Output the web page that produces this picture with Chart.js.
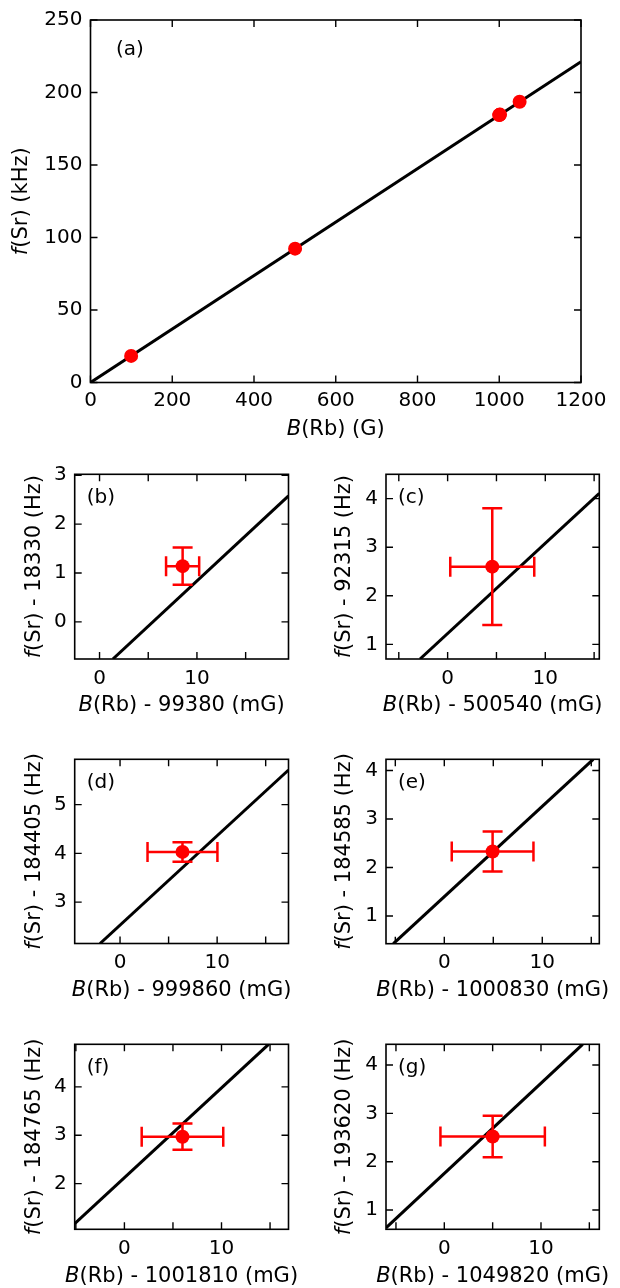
<!DOCTYPE html>
<html>
<head>
<meta charset="utf-8">
<script src="https://cdn.jsdelivr.net/npm/chart.js@4.4.1/dist/chart.umd.min.js"></script>
<style>
  body { margin: 0; background: #fff; width: 620px; height: 1288px; position: relative; overflow: hidden; }
  canvas { position: absolute; }
</style>
</head>
<body>
<script>
// panel (a): all six field points, B in G, f in kHz
const fieldA = [99.38, 500.54, 999.86, 1000.83, 1001.81, 1049.82];
const freqA = [18.331, 92.318, 184.409, 184.587, 184.768, 193.622];
const fitAx = [0, 1200];
const fitAy = [0, 221.2];
const ticksAx = [0, 200, 400, 600, 800, 1000, 1200];
const ticksAy = [0, 50, 100, 150, 200, 250];

// panels (b)-(g): zoom on each point, offsets in mG and Hz
const subLabels = ['(b)', '(c)', '(d)', '(e)', '(f)', '(g)'];
const fieldOffsets = ['99380', '500540', '999860', '1000830', '1001810', '1049820'];
const freqOffsets = ['18330', '92315', '184405', '184585', '184765', '193620'];
const pointX = [8.53, 4.57, 6.43, 4.93, 5.98, 5.0];
const pointY = [1.14, 2.6, 4.03, 2.33, 2.97, 2.52];
const errX = [1.7, 4.3, 3.6, 4.17, 4.2, 5.4];
const errY = [0.38, 1.2, 0.2, 0.41, 0.27, 0.43];
const fitX0 = [1.37, -2.83, -2.06, -5.2, -5.12, -6.03];
const fitY0 = [-0.76, 0.70, 2.15, 0.43, 1.17, 0.63];
const fitX1 = [19.4, 15.53, 17.35, 15.2, 14.85, 14.31];
const fitY1 = [2.58, 4.11, 5.71, 4.23, 4.88, 4.43];
const xMin = [-2.55, -6.31, -4.67, -5.95, -5.12, -6.03];
const xMax = [19.4, 15.53, 17.35, 15.82, 16.9, 16.03];
const yMin = [-0.76, 0.70, 2.15, 0.43, 1.055, 0.6];
const yMax = [3.02, 4.5, 5.93, 4.23, 4.88, 4.43];

// where each panel sits on the page: canvas rect and plot box [left, top, right, bottom]
const layoutA = { left: 0, top: 0, w: 620, h: 440, box: [90.5, 17, 581, 382.5] };
const layoutSub = [
  { left: 0,   top: 440,  w: 310, h: 280, box: [74.7, 34.3, 288.5, 219] },
  { left: 310, top: 440,  w: 310, h: 280, box: [76, 34.3, 289.3, 219] },
  { left: 0,   top: 720,  w: 310, h: 280, box: [74.7, 39.3, 288.5, 223.5] },
  { left: 310, top: 720,  w: 310, h: 280, box: [76, 39.3, 289.3, 223.7] },
  { left: 0,   top: 1000, w: 310, h: 288, box: [74.7, 44.3, 288.5, 229.3] },
  { left: 310, top: 1000, w: 310, h: 288, box: [76, 44.3, 289.3, 229.3] }
];

const FONT = '"DejaVu Sans", sans-serif';
const RED = '#ff0000';

function makeCanvas(lay) {
  const c = document.createElement('canvas');
  c.width = lay.w;
  c.height = lay.h;
  c.style.left = lay.left + 'px';
  c.style.top = lay.top + 'px';
  document.body.appendChild(c);
  return c;
}

// text made of pieces, some italic
function drawParts(ctx, parts, x, y, rotate) {
  ctx.save();
  ctx.translate(x, y);
  if (rotate) ctx.rotate(-Math.PI / 2);
  ctx.fillStyle = '#000';
  ctx.textBaseline = 'middle';
  ctx.textAlign = 'left';
  let total = 0;
  parts.forEach(p => {
    ctx.font = (p.i ? 'italic ' : '') + '21px ' + FONT;
    total += ctx.measureText(p.t).width;
  });
  let cx = -total / 2;
  parts.forEach(p => {
    ctx.font = (p.i ? 'italic ' : '') + '21px ' + FONT;
    ctx.fillText(p.t, cx, 0);
    cx += ctx.measureText(p.t).width;
  });
  ctx.restore();
}

// frame, inward ticks on all sides, titles and panel letter
const framePlugin = {
  id: 'frame',
  afterDraw(chart, args, opts) {
    const ctx = chart.ctx;
    const a = chart.chartArea;
    const xs = chart.scales.x, ys = chart.scales.y;
    ctx.save();
    ctx.strokeStyle = '#000';
    ctx.lineWidth = 1.4;
    ctx.beginPath();
    xs.ticks.forEach(t => {
      const px = xs.getPixelForValue(t.value);
      ctx.moveTo(px, a.bottom); ctx.lineTo(px, a.bottom - 7);
      ctx.moveTo(px, a.top); ctx.lineTo(px, a.top + 7);
    });
    ys.ticks.forEach(t => {
      const py = ys.getPixelForValue(t.value);
      ctx.moveTo(a.left, py); ctx.lineTo(a.left + 7, py);
      ctx.moveTo(a.right, py); ctx.lineTo(a.right - 7, py);
    });
    ctx.stroke();
    ctx.lineWidth = 1.6;
    ctx.strokeRect(a.left, a.top, a.right - a.left, a.bottom - a.top);
    ctx.restore();

    drawParts(ctx, opts.xTitle, (a.left + a.right) / 2, a.bottom + 47, false);
    drawParts(ctx, opts.yTitle, opts.yTitleX, (a.top + a.bottom) / 2, true);

    ctx.save();
    ctx.font = '20px ' + FONT;
    ctx.fillStyle = '#000';
    ctx.textBaseline = 'middle';
    ctx.fillText(opts.tag, a.left + opts.tagDx, a.top + opts.tagDy);
    ctx.restore();
  }
};

// error bars drawn just before the red dots
const errorPlugin = {
  id: 'errbars',
  beforeDatasetDraw(chart, args, opts) {
    if (args.index !== 0 || !opts.ex) return;
    const ctx = chart.ctx;
    const xs = chart.scales.x, ys = chart.scales.y;
    const d = chart.data.datasets[0].data;
    ctx.save();
    ctx.strokeStyle = RED;
    ctx.lineWidth = 2.5;
    d.forEach((p, i) => {
      const px = xs.getPixelForValue(p.x), py = ys.getPixelForValue(p.y);
      const x0 = xs.getPixelForValue(p.x - opts.ex[i]), x1 = xs.getPixelForValue(p.x + opts.ex[i]);
      const y0 = ys.getPixelForValue(p.y - opts.ey[i]), y1 = ys.getPixelForValue(p.y + opts.ey[i]);
      const cap = 10;
      ctx.beginPath();
      ctx.moveTo(x0, py); ctx.lineTo(x1, py);
      ctx.moveTo(px, y0); ctx.lineTo(px, y1);
      ctx.moveTo(x0, py - cap); ctx.lineTo(x0, py + cap);
      ctx.moveTo(x1, py - cap); ctx.lineTo(x1, py + cap);
      ctx.moveTo(px - cap, y0); ctx.lineTo(px + cap, y0);
      ctx.moveTo(px - cap, y1); ctx.lineTo(px + cap, y1);
      ctx.stroke();
    });
    ctx.restore();
  }
};

function buildChart(lay, pts, fit, ranges, xStep, yStep, xLabelEvery, frameOpts, errOpts, xPad) {
  const canvas = makeCanvas(lay);
  const [L, T, R, B] = lay.box;
  return new Chart(canvas, {
    type: 'scatter',
    data: {
      datasets: [
        {
          data: pts,
          pointRadius: 7,
          pointBackgroundColor: RED,
          pointBorderWidth: 0,
          showLine: false
        },
        {
          data: fit,
          showLine: true,
          borderColor: '#000',
          borderWidth: 3,
          pointRadius: 0
        }
      ]
    },
    options: {
      responsive: false,
      animation: false,
      events: [],
      layout: { padding: { left: 0, top: T, right: lay.w - R, bottom: 0 } },
      plugins: {
        legend: { display: false },
        tooltip: { enabled: false },
        frame: frameOpts,
        errbars: errOpts
      },
      scales: {
        x: {
          type: 'linear',
          min: ranges[0], max: ranges[1],
          grid: { display: false, drawTicks: false },
          border: { display: false },
          afterFit: s => { s.height = lay.h - B; },
          ticks: {
            stepSize: xStep,
            includeBounds: false,
            autoSkip: false,
            maxRotation: 0,
            padding: xPad,
            color: '#000',
            font: { family: FONT, size: 20 },
            callback: v => (Math.abs(v % xLabelEvery) < 1e-9 ? String(v) : '')
          }
        },
        y: {
          type: 'linear',
          min: ranges[2], max: ranges[3],
          grid: { display: false, drawTicks: false },
          border: { display: false },
          afterFit: s => { s.width = L; },
          ticks: {
            stepSize: yStep,
            includeBounds: false,
            autoSkip: false,
            padding: 8,
            color: '#000',
            font: { family: FONT, size: 20 },
            callback: v => String(v)
          }
        }
      }
    },
    plugins: [framePlugin, errorPlugin]
  });
}

// panel (a)
buildChart(
  layoutA,
  fieldA.map((x, i) => ({ x: x, y: freqA[i] })),
  fitAx.map((x, i) => ({ x: x, y: fitAy[i] })),
  [ticksAx[0], ticksAx[ticksAx.length - 1], ticksAy[0], ticksAy[ticksAy.length - 1]],
  ticksAx[1] - ticksAx[0], ticksAy[1] - ticksAy[0], 1,
  {
    xTitle: [{ t: 'B', i: true }, { t: '(Rb) (G)' }],
    yTitle: [{ t: 'f', i: true }, { t: '(Sr) (kHz)' }],
    yTitleX: 22, tag: '(a)', tagDx: 25.5, tagDy: 30
  },
  {},
  6
);

// panels (b)-(g)
subLabels.forEach((tag, i) => {
  buildChart(
    layoutSub[i],
    [{ x: pointX[i], y: pointY[i] }],
    [{ x: fitX0[i], y: fitY0[i] }, { x: fitX1[i], y: fitY1[i] }],
    [xMin[i], xMax[i], yMin[i], yMax[i]],
    5, 1, 10,
    {
      xTitle: [{ t: 'B', i: true }, { t: '(Rb) - ' + fieldOffsets[i] + ' (mG)' }],
      yTitle: [{ t: 'f', i: true }, { t: '(Sr) - ' + freqOffsets[i] + ' (Hz)' }],
      yTitleX: 35, tag: tag, tagDx: 12, tagDy: 23
    },
    { ex: [errX[i]], ey: [errY[i]] },
    7.5
  );
});
</script>
</body>
</html>
